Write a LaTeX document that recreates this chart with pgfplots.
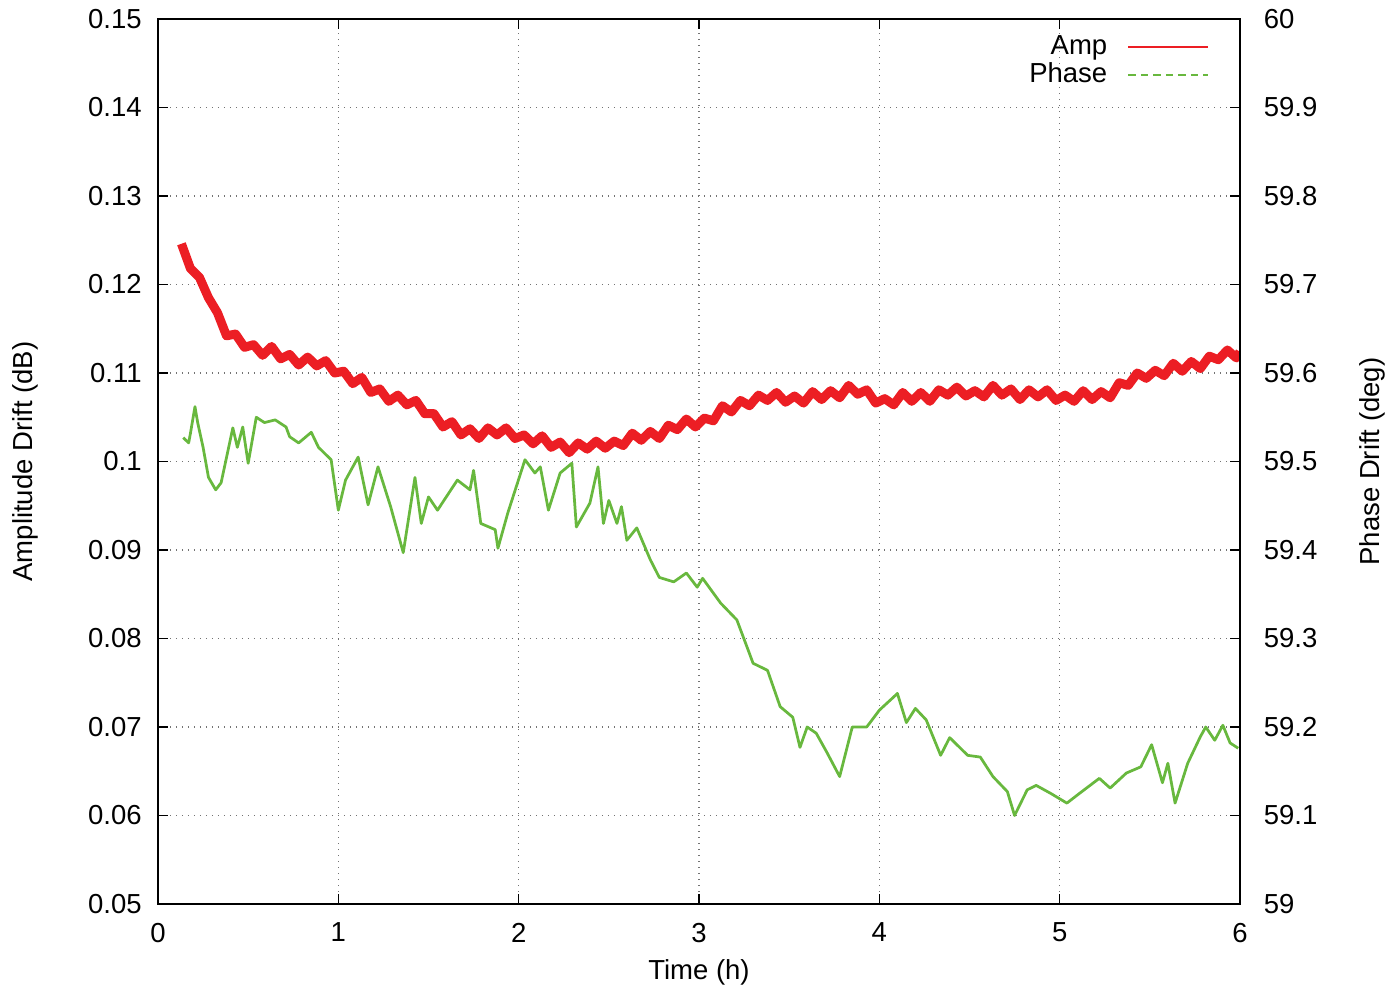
\documentclass[border=0pt]{standalone}
\usepackage{fontspec}
\setmainfont{Liberation Sans}
\usepackage{pgfplots}
\pgfplotsset{compat=1.18}
\definecolor{ampred}{RGB}{236,30,36}
\definecolor{phgreen}{RGB}{104,184,62}

\pgfplotsset{
  drift/.style={
    scale only axis, width=432.8pt, height=354pt,
    at={(0,0)}, anchor=south west,
    xmin=0, xmax=6,
    tick align=inside, major tick length=4pt,
    tick style={black, line width=0.6pt},
    axis line style={line width=0.8pt},
    /pgf/number format/assume math mode=true,
    font=\fontsize{11}{13}\selectfont,
  }
}

\begin{document}
\begin{tikzpicture}
\path[use as bounding box] (-63.2pt,-35.6pt) rectangle (494pt,361.6pt);

\begin{axis}[drift,
  ymin=0.05, ymax=0.15,
  xtick={0,1,...,6}, ytick={0.05,0.06,...,0.15},
  xtick pos=both, ytick pos=left,
  grid=major, grid style={black!55, dotted, line width=0.6pt},
  yticklabel style={/pgf/number format/fixed, /pgf/number format/precision=2, xshift=-3pt},
  xticklabel style={yshift=-4pt},
  xlabel={Time (h)},
  xlabel style={at={(axis description cs:0.5,-0.077)}, anchor=center},
  ylabel={Amplitude Drift (dB)},
  ylabel style={at={(axis description cs:-0.123,0.5)}, anchor=center},
]
% Amp (dB), noisy band
\addplot[ampred, line width=3.6pt, line join=round] coordinates {
(0.13,0.1246) (0.18,0.1218) (0.23,0.1208) (0.28,0.1185) (0.33,0.1168)
(0.38,0.1142) (0.43,0.1144) (0.48,0.1129) (0.53,0.1132) (0.58,0.1120)
(0.63,0.1130) (0.68,0.1116) (0.73,0.1121) (0.78,0.1109) (0.83,0.1118)
(0.88,0.1108) (0.93,0.1114) (0.98,0.1100) (1.03,0.1102) (1.08,0.1088)
(1.13,0.1095) (1.18,0.1078) (1.23,0.1082) (1.28,0.1068) (1.33,0.1075)
(1.38,0.1064) (1.43,0.1069) (1.48,0.1054) (1.53,0.1054) (1.58,0.1039)
(1.63,0.1045) (1.68,0.1030) (1.73,0.1037) (1.78,0.1026) (1.83,0.1038)
(1.88,0.1030) (1.93,0.1038) (1.98,0.1026) (2.03,0.1030) (2.08,0.1020)
(2.13,0.1029) (2.18,0.1016) (2.23,0.1022) (2.28,0.1010) (2.33,0.1021)
(2.38,0.1014) (2.43,0.1023) (2.48,0.1015) (2.53,0.1023) (2.58,0.1018)
(2.63,0.1032) (2.68,0.1024) (2.73,0.1034) (2.78,0.1026) (2.83,0.1041)
(2.88,0.1036) (2.93,0.1048) (2.98,0.1039) (3.03,0.1049) (3.08,0.1046)
(3.13,0.1063) (3.18,0.1056) (3.23,0.1069) (3.28,0.1063) (3.33,0.1075)
(3.38,0.1069) (3.43,0.1078) (3.48,0.1067) (3.53,0.1074) (3.58,0.1066)
(3.63,0.1079) (3.68,0.1070) (3.73,0.1080) (3.78,0.1072) (3.83,0.1086)
(3.88,0.1076) (3.93,0.1081) (3.98,0.1066) (4.03,0.1071) (4.08,0.1064)
(4.13,0.1078) (4.18,0.1068) (4.23,0.1078) (4.28,0.1068) (4.33,0.1081)
(4.38,0.1075) (4.43,0.1084) (4.48,0.1074) (4.53,0.1080) (4.58,0.1073)
(4.63,0.1086) (4.68,0.1075) (4.73,0.1082) (4.78,0.1070) (4.83,0.1081)
(4.88,0.1073) (4.93,0.1081) (4.98,0.1069) (5.03,0.1075) (5.08,0.1068)
(5.13,0.1080) (5.18,0.1070) (5.23,0.1079) (5.28,0.1072) (5.33,0.1089)
(5.38,0.1086) (5.43,0.1100) (5.48,0.1094) (5.53,0.1103) (5.58,0.1097)
(5.63,0.1111) (5.68,0.1102) (5.73,0.1113) (5.78,0.1105) (5.83,0.1119)
(5.88,0.1115) (5.93,0.1126) (5.98,0.1117) (6.00,0.1124)
};
\end{axis}

\begin{axis}[drift,
  ymin=59, ymax=60,
  ytick={59,59.1,...,60},
  axis y line*=right, axis x line=none,
  yticklabel style={/pgf/number format/fixed, /pgf/number format/precision=1, xshift=6pt},
  ylabel={Phase Drift (deg)},
  ylabel style={at={(axis description cs:1.122,0.5)}, anchor=center},
  legend style={at={(axis description cs:0.979,0.993)}, anchor=north east,
    draw=none, fill=none, row sep=-2.2pt},
  legend cell align=right, legend plot pos=right,
  legend image code/.code={\path (0pt,0pt); \draw[#1] (6pt,0pt) -- (38pt,0pt);},
]
\addlegendimage{ampred, line width=0.8pt}
\addlegendentry{Amp}
\addlegendimage{phgreen, line width=0.8pt, dash pattern=on 3pt off 2pt}
\addlegendentry{Phase}
% Phase (deg)
\addplot[phgreen, line width=1.1pt, line join=round, forget plot] coordinates {
(0.14,59.527) (0.17,59.521) (0.18,59.532) (0.205,59.562) (0.22,59.544)
(0.25,59.516) (0.28,59.482) (0.32,59.468) (0.35,59.476) (0.415,59.538)
(0.44,59.516) (0.47,59.539) (0.50,59.498) (0.545,59.550) (0.59,59.544)
(0.65,59.547) (0.71,59.539) (0.73,59.528) (0.78,59.521) (0.85,59.533)
(0.89,59.516) (0.96,59.502) (1.00,59.445) (1.04,59.479) (1.11,59.505)
(1.165,59.451) (1.22,59.494) (1.29,59.449) (1.36,59.397) (1.425,59.482)
(1.46,59.430) (1.50,59.460) (1.55,59.445) (1.66,59.479) (1.73,59.468)
(1.75,59.490) (1.79,59.430) (1.87,59.423) (1.885,59.402) (1.94,59.442)
(2.035,59.502) (2.09,59.487) (2.12,59.494) (2.165,59.445) (2.23,59.487)
(2.295,59.498) (2.32,59.426) (2.395,59.453) (2.44,59.494) (2.47,59.430)
(2.50,59.456) (2.545,59.430) (2.57,59.449) (2.60,59.411) (2.655,59.425)
(2.73,59.389) (2.78,59.369) (2.86,59.364) (2.93,59.374) (2.99,59.358)
(3.02,59.368) (3.12,59.340) (3.21,59.321) (3.30,59.272) (3.38,59.264)
(3.45,59.223) (3.52,59.211) (3.56,59.177) (3.60,59.200) (3.65,59.193)
(3.71,59.171) (3.78,59.144) (3.85,59.200) (3.93,59.200) (4.00,59.219)
(4.08,59.234) (4.10,59.238) (4.15,59.205) (4.20,59.221) (4.26,59.208)
(4.34,59.168) (4.39,59.188) (4.49,59.168) (4.56,59.166) (4.63,59.144)
(4.71,59.127) (4.75,59.100) (4.82,59.129) (4.87,59.134) (4.95,59.125)
(5.04,59.114) (5.11,59.125) (5.22,59.142) (5.28,59.131) (5.37,59.148)
(5.45,59.155) (5.51,59.180) (5.57,59.137) (5.60,59.159) (5.64,59.114)
(5.71,59.159) (5.78,59.189) (5.81,59.200) (5.86,59.185) (5.905,59.202)
(5.945,59.182) (5.99,59.176)
};
\end{axis}
\end{tikzpicture}
\end{document}
